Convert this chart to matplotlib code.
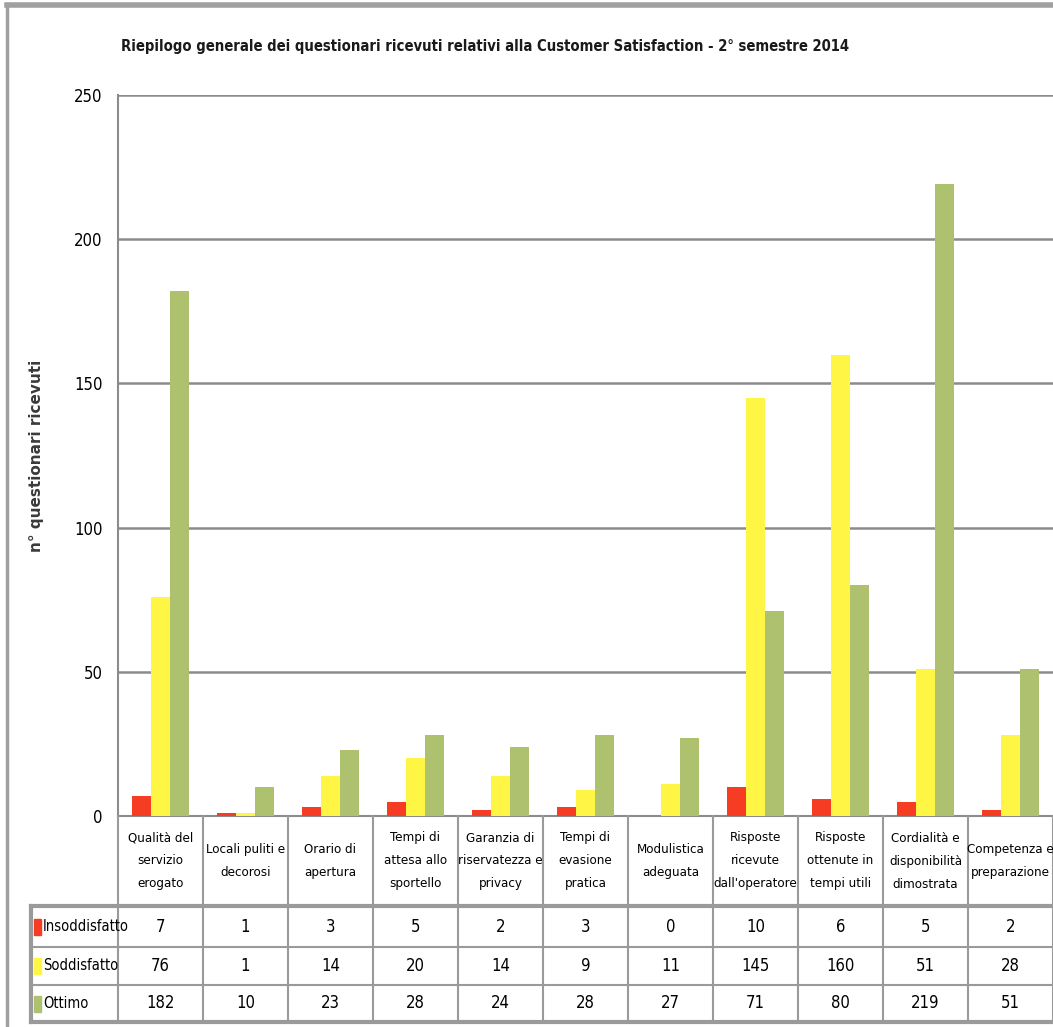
import matplotlib
matplotlib.use("Agg")
import matplotlib.pyplot as plt
from matplotlib import font_manager as fm
import numpy as np

W, H = 1053, 1027

title = "Riepilogo generale dei questionari ricevuti relativi alla Customer Satisfaction - 2° semestre 2014"
ylabel = "n° questionari ricevuti"
categories = [
    "Qualità del\nservizio\nerogato",
    "Locali puliti e\ndecorosi",
    "Orario di\napertura",
    "Tempi di\nattesa allo\nsportello",
    "Garanzia di\nriservatezza e\nprivacy",
    "Tempi di\nevasione\npratica",
    "Modulistica\nadeguata",
    "Risposte\nricevute\ndall'operatore",
    "Risposte\nottenute in\ntempi utili",
    "Cordialità e\ndisponibilità\ndimostrata",
    "Competenza e\npreparazione",
]
series_names = ["Insoddisfatto", "Soddisfatto", "Ottimo"]
insoddisfatto = [7, 1, 3, 5, 2, 3, 0, 10, 6, 5, 2]
soddisfatto = [76, 1, 14, 20, 14, 9, 11, 145, 160, 51, 28]
ottimo = [182, 10, 23, 28, 24, 28, 27, 71, 80, 219, 51]
colors = ["#F63C22", "#FFF544", "#ADC16E"]
yticks = [0, 50, 100, 150, 200, 250]

# the original uses a squeezed Calibri look: pick a narrow face if one exists
narrow = None
for f in fm.fontManager.ttflist:
    st = str(f.stretch)
    if 'Narrow' in f.name or 'Condensed' in f.name or 'condensed' in st:
        narrow = f
        break
if narrow is not None:
    plt.rcParams['font.family'] = [narrow.name, 'DejaVu Sans']
    if 'condensed' in str(narrow.stretch):
        plt.rcParams['font.stretch'] = narrow.stretch
    fs = 1.0
else:
    plt.rcParams['font.family'] = ['Lato', 'DejaVu Sans']
    fs = 0.85

grid_col = "#8C8C8C"

fig = plt.figure(figsize=(W / 100, H / 100), dpi=100)

def px_axes(x0, y0, x1, y1):
    # axes from pixel box (top-left origin)
    return fig.add_axes([x0 / W, 1 - y1 / H, (x1 - x0) / W, (y1 - y0) / H])

ax = px_axes(118, 95, 1053, 816)
x = np.arange(len(categories))
bw = 0.225
for i, vals in enumerate([insoddisfatto, soddisfatto, ottimo]):
    ax.bar(x + (i - 1) * bw, vals, bw, color=colors[i], zorder=3)

ax.set_xlim(-0.5, len(categories) - 0.5)
ax.set_ylim(0, 250)
ax.set_yticks(yticks)
ax.set_yticklabels([str(t) for t in yticks], fontsize=12 * fs)
ax.set_xticks([])
ax.tick_params(axis='y', length=0, pad=11)
ax.grid(axis='y', color=grid_col, linewidth=1.8, zorder=0)
for s in ['top', 'right']:
    ax.spines[s].set_visible(False)
ax.spines['left'].set_color(grid_col)
ax.spines['left'].set_linewidth(1.5)
ax.spines['bottom'].set_color(grid_col)
ax.spines['bottom'].set_linewidth(1.5)

fig.text(485 / W, 1 - 47 / H, title, ha='center', va='center', fontsize=10.6 * fs,
         fontweight='bold', color='#1a1a1a')
fig.text(36 / W, 1 - 456 / H, ylabel, ha='center', va='center', rotation=90,
         fontsize=11, fontweight='bold', family=['DejaVu Sans'], stretch='normal', color='#3a3a3a')

# data table below the chart
tax = px_axes(118, 816, 1053, 1023)
tax.set_xlim(-0.5, len(categories) - 0.5)
tax.set_ylim(1023, 816)
tax.axis('off')
rows = [816, 906, 947, 985, 1022]
left = -0.5 - (118 - 31) / 85.0
right = len(categories) - 0.5
lc = "#9A9A9A"
for k in range(len(categories) + 1):
    tax.plot([k - 0.5, k - 0.5], [rows[0], rows[-1]], color=lc, lw=1.5, clip_on=False)
tax.plot([left, right], [rows[1], rows[1]], color=lc, lw=3, clip_on=False)
tax.plot([left, right], [rows[2], rows[2]], color=lc, lw=1.5, clip_on=False)
tax.plot([left, right], [rows[3], rows[3]], color=lc, lw=1.5, clip_on=False)
tax.plot([left, right], [rows[4], rows[4]], color=lc, lw=3, clip_on=False)
tax.plot([left, left], [rows[1], rows[4]], color=lc, lw=3, clip_on=False)

for k, cat in enumerate(categories):
    tax.text(k, (rows[0] + rows[1]) / 2, cat, ha='center', va='center', fontsize=9.5 * fs,
             linespacing=2.0, clip_on=False)

for r, vals in enumerate([insoddisfatto, soddisfatto, ottimo]):
    yc = (rows[r + 1] + rows[r + 2]) / 2
    for k, v in enumerate(vals):
        tax.text(k, yc, str(v), ha='center', va='center', fontsize=12 * fs, clip_on=False)
    tax.add_patch(plt.Rectangle((left + 0.04, yc - 8), 0.08, 16, color=colors[r], clip_on=False))
    tax.text(left + 0.14, yc, series_names[r], ha='left', va='center', fontsize=10.5 * fs, clip_on=False)

# outer frame of the chart area
fig.add_artist(plt.Line2D([7 / W, 7 / W], [0, 1 - 6 / H], color="#A0A0A0", lw=2.5))
fig.add_artist(plt.Line2D([7 / W, 1], [1 - 5 / H, 1 - 5 / H], color="#A0A0A0", lw=4))

fig.savefig("out.png", dpi=100)
